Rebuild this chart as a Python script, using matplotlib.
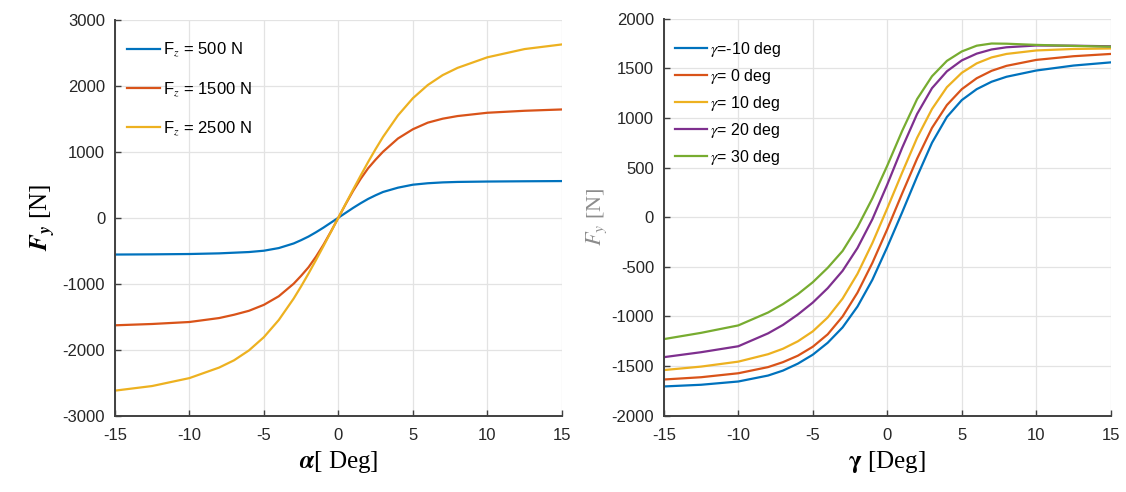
"""
Lateral tyre force Fy vs slip angle (per load) and vs camber (per camber angle).
"""
import matplotlib
matplotlib.use("Agg")
import matplotlib.pyplot as plt

plt.rcParams["font.family"] = ["Liberation Sans", "DejaVu Sans"]
plt.rcParams["mathtext.fontset"] = "stix"
plt.rcParams["axes.unicode_minus"] = False

# MATLAB default line colours
_COLORS = ["#0072BD", "#D95319", "#EDB120", "#7E2F8E", "#77AC30"]

# ---- left panel: Fy vs slip angle, one curve per vertical load ----
alpha_deg = [-15, -12.5, -10, -8, -7, -6, -5, -4, -3, -2.5, -2, -1.5, -1, -0.5,
             0, 0.5, 1, 1.5, 2, 2.5, 3, 4, 5, 6, 7, 8, 10, 12.5, 15]
fy_fz500 = [-558, -555, -550, -540, -530, -520, -500, -460, -390, -340, -285, -220,
            -150, -75, 0, 75, 150, 220, 285, 340, 390, 455, 500, 522, 535, 542,
            548, 552, 555]
fy_fz1500 = [-1630, -1610, -1580, -1520, -1470, -1410, -1320, -1190, -1000, -880,
             -750, -590, -410, -210, 0, 210, 410, 590, 750, 880, 1000, 1200, 1340,
             1440, 1500, 1540, 1590, 1620, 1640]
fy_fz2500 = [-2620, -2550, -2430, -2270, -2160, -2010, -1810, -1550, -1225, -1040,
             -845, -640, -430, -215, 0, 215, 430, 640, 845, 1040, 1225, 1550, 1810,
             2010, 2160, 2270, 2430, 2555, 2625]
load_labels = ["F$_z$ = 500 N", "F$_z$ = 1500 N", "F$_z$ = 2500 N"]

# ---- right panel: Fy vs angle, one curve per camber ----
gamma_deg = [-15, -12.5, -10, -8, -7, -6, -5, -4, -3, -2, -1, 0, 1, 2, 3, 4, 5, 6,
             7, 8, 10, 12.5, 15]
fy_cam_m10 = [-1705, -1688, -1655, -1595, -1545, -1475, -1385, -1265, -1110, -900,
              -630, -300, 50, 410, 750, 1010, 1180, 1290, 1365, 1415, 1478, 1528, 1560]
fy_cam_0 = [-1635, -1612, -1572, -1510, -1460, -1395, -1305, -1180, -1000, -760,
            -460, -120, 240, 590, 900, 1130, 1290, 1400, 1475, 1525, 1585, 1622, 1645]
fy_cam_10 = [-1540, -1505, -1455, -1380, -1325, -1250, -1150, -1010, -820, -570,
             -260, 90, 450, 800, 1090, 1310, 1455, 1550, 1610, 1645, 1680, 1695, 1700]
fy_cam_20 = [-1410, -1360, -1300, -1170, -1085, -980, -860, -715, -540, -310,
             -20, 330, 700, 1040, 1300, 1470, 1580, 1648, 1690, 1712, 1730, 1728, 1722]
fy_cam_30 = [-1228, -1165, -1090, -960, -875, -775, -655, -510, -340, -100,
             190, 520, 870, 1190, 1420, 1575, 1670, 1728, 1750, 1748, 1736, 1726, 1718]
camber_labels = ["$\\gamma$=-10 deg", "$\\gamma$= 0 deg", "$\\gamma$= 10 deg",
                 "$\\gamma$= 20 deg", "$\\gamma$= 30 deg"]


def _style_axes(ax, yticks):
    ax.set_xlim(-15, 15)
    ax.set_xticks(range(-15, 16, 5))
    ax.set_ylim(yticks[0], yticks[-1])
    ax.set_yticks(yticks)
    ax.grid(True, color="#e3e3e3", lw=0.9)
    ax.set_axisbelow(True)
    for side in ("top", "right"):
        ax.spines[side].set_visible(False)
    for side in ("left", "bottom"):
        ax.spines[side].set_color("#404040")
        ax.spines[side].set_linewidth(1.4)
    ax.tick_params(direction="in", length=4, width=1.0, colors="#404040",
                   labelcolor="#262626", labelsize=12, pad=7)
    ax.tick_params(axis="x", pad=9)


fig = plt.figure(figsize=(11.26, 4.92), dpi=100)
ax1 = fig.add_axes([0.102, 0.155, 0.397, 0.805])
ax2 = fig.add_axes([0.5895, 0.155, 0.397, 0.807])

for fy, lab, c in zip([fy_fz500, fy_fz1500, fy_fz2500], load_labels, _COLORS):
    ax1.plot(alpha_deg, fy, color=c, lw=1.6, label=lab)
_style_axes(ax1, list(range(-3000, 3001, 1000)))
ax1.legend(loc="upper left", frameon=False, fontsize=12, handlelength=2.0,
           handletextpad=0.2, labelspacing=1.25, borderaxespad=0.3,
           bbox_to_anchor=(0.0, 0.975))
ax1.set_ylabel(r"$\mathbfit{F}_{\mathbfit{y}}$ [N]", family="Liberation Serif",
               fontsize=18, labelpad=4)
ax1.set_xlabel(r"$\mathbfit{\alpha}$[ Deg]", family="Liberation Serif",
               fontsize=18, labelpad=4)

camber = [fy_cam_m10, fy_cam_0, fy_cam_10, fy_cam_20, fy_cam_30]
for fy, lab, c in zip(camber, camber_labels, _COLORS):
    ax2.plot(gamma_deg, fy, color=c, lw=1.6, label=lab)
_style_axes(ax2, list(range(-2000, 2001, 500)))
ax2.legend(loc="upper left", frameon=False, fontsize=11.5, handlelength=2.0,
           handletextpad=0.2, labelspacing=0.5, borderaxespad=0.3,
           bbox_to_anchor=(0.0, 0.975))
ax2.set_ylabel(r"$F_y$ [N]", family="Liberation Serif", fontsize=16,
               color="#8c8c8c", labelpad=2)
ax2.set_xlabel(r"$\mathbf{\gamma}$ [Deg]", family="Liberation Serif",
               fontsize=18, labelpad=4)

fig.savefig("out.png", dpi=100)
